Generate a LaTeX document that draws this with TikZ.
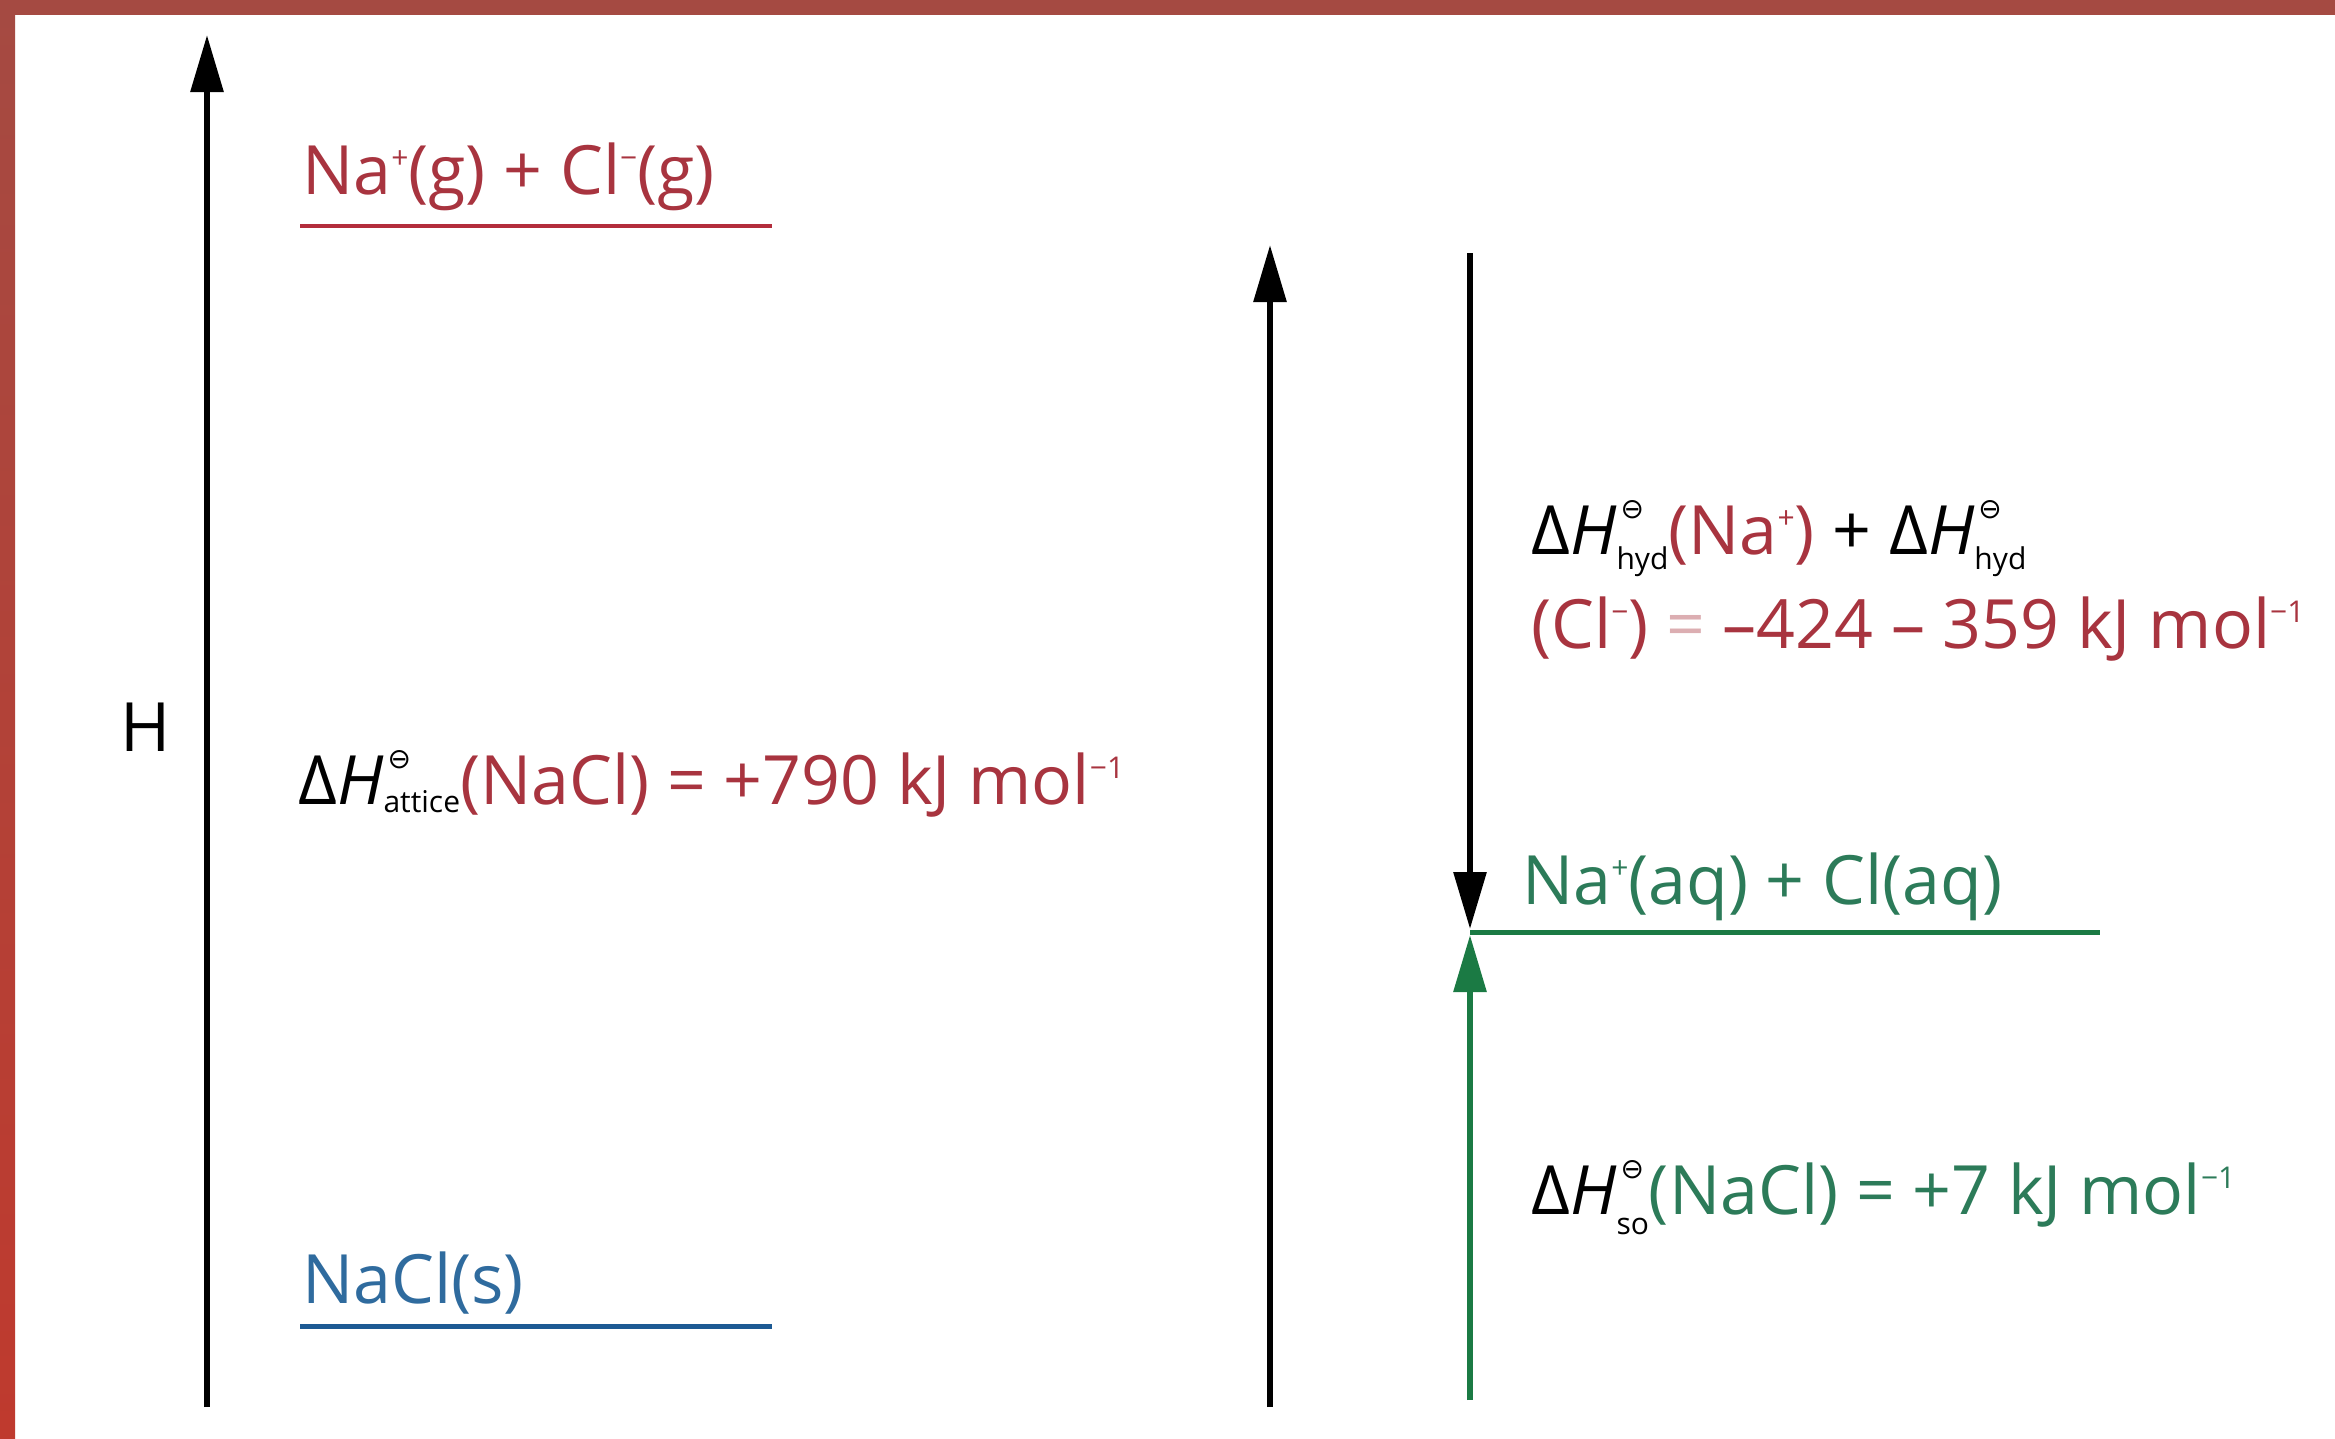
\documentclass[tikz,border=0pt]{standalone}
\usepackage{fontspec}
\setmainfont{Open Sans}
\newfontfamily\symf{DejaVu Sans}
\usetikzlibrary{arrows.meta}
\definecolor{redT}{HTML}{A8343F}
\definecolor{redL}{HTML}{B32D3C}
\definecolor{blueT}{HTML}{2F6B9E}
\definecolor{blueL}{HTML}{1D5A94}
\definecolor{greenT}{HTML}{2C7B59}
\definecolor{greenL}{HTML}{1B7A44}
\definecolor{frameA}{HTML}{A54A42}
\definecolor{frameB}{HTML}{BF3A2E}
\newcommand{\supx}[1]{\raisebox{26pt}{\fontsize{30}{30}\selectfont #1}}
\newcommand{\dHx}[2]{{\color{black}Δ\textit{H}\rlap{\raisebox{36pt}{\hspace{4pt}\fontsize{28}{28}\symf ⊖}}\raisebox{-#2}{\fontsize{30}{30}\selectfont #1}}}
\begin{document}
\begin{tikzpicture}[x=1pt,y=-1pt,
  lbl/.style={inner sep=0pt,anchor=base west,font=\fontsize{68}{82}\selectfont},
  blackarrow/.style={line width=6pt,draw=black,-{Triangle[width=32pt,length=57pt]}},
  greenarrow/.style={line width=6pt,draw=greenL,-{Triangle[width=32pt,length=57pt]}},
  levelline/.style={line width=5pt}]
\useasboundingbox (0,0) rectangle (2335,1438);
\fill[white] (0,0) rectangle (2335,1438);
\shade[top color=frameA,bottom color=frameB] (0,0) rectangle (15,1438);
\fill[frameA] (0,0) rectangle (2335,15);
% axes
\coordinate (Hb) at (207,1407);
\coordinate (Ht) at (207,35);
\draw[blackarrow] (Hb) -- (Ht);
\node[lbl,anchor=center,text=black] (H) at (146,727) {H};
\coordinate (Mb) at (1270,1407);
\coordinate (Mt) at (1270,245);
\draw[blackarrow] (Mb) -- (Mt);
% levels
\coordinate (g1) at (300,226);
\coordinate (g2) at (772,226);
\draw[levelline,draw=redL,line width=4pt] (g1) -- (g2);
\node[lbl,text=redT] (gas) at (302,194) {Na\supx{+}(g) + Cl\supx{−}(g)};
\coordinate (s1) at (300,1326);
\coordinate (s2) at (772,1326);
\draw[levelline,draw=blueL] (s1) -- (s2);
\node[lbl,text=blueT] (solid) at (302,1303) {NaCl(s)};
\node[lbl,text=redT] (latt) at (298,804) {\dHx{attice}{8pt}(NaCl) = +790 kJ mol\supx{−1}};
% aqueous
\coordinate (a1) at (1470,932);
\coordinate (a2) at (2100,932);
\draw[levelline,draw=greenL] (a1) -- (a2);
\node[lbl,text=greenT] (aq) at (1522,904) {Na\supx{+}(aq) + Cl(aq)};
\coordinate (dt) at (1470,253);
\coordinate (dtip) at (1470,929);
\draw[blackarrow] (dt) -- (dtip);
\coordinate (ub) at (1470,1400);
\coordinate (utip) at (1470,935);
\draw[greenarrow] (ub) -- (utip);
\node[lbl,text=redT] (hyd1) at (1531,554) {\dHx{hyd}{15pt}(Na\supx{+}) {\color{black}+} \dHx{hyd}{15pt}};
\node[lbl,text=redT] (hyd2) at (1531,648) {(Cl\supx{−}) {\color{redT!40}=} –424 – 359 kJ mol\supx{−1}};
\node[lbl,text=greenT] (sol) at (1531,1214) {\dHx{so}{20pt}(NaCl) = +7 kJ mol\supx{−1}};
\end{tikzpicture}
\end{document}
